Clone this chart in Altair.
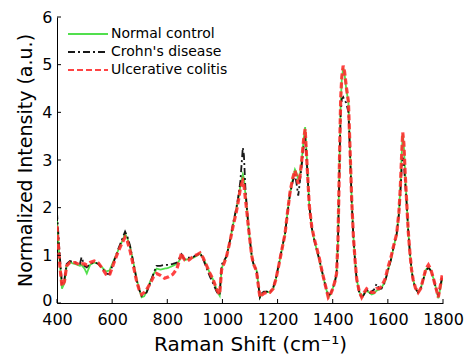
import altair as alt
import pandas as pd

# Raman shift (cm-1)
shift = [
    400, 410, 418, 427, 435, 447, 465, 483, 489, 500,
    508, 520, 535, 550, 565, 578, 590, 605, 620, 635,
    647, 655, 665, 677, 689, 698, 707, 716, 725, 737,
    750, 761, 775, 790, 805, 820, 835, 845, 852, 858,
    864, 873, 882, 895, 910, 919, 930, 943, 955, 967,
    978, 985, 990, 997, 1007, 1015, 1027, 1039, 1050, 1058,
    1065, 1070, 1074, 1078, 1083, 1088, 1094, 1100, 1106, 1112,
    1118, 1124, 1130, 1136, 1142, 1150, 1160, 1172, 1184, 1194,
    1203, 1215, 1227, 1236, 1245, 1255, 1263, 1269, 1275, 1281,
    1287, 1294, 1300, 1306, 1315, 1324, 1333, 1342, 1351, 1360,
    1372, 1384, 1392, 1400, 1408, 1414, 1419, 1423, 1426, 1429,
    1433, 1438, 1443, 1449, 1457, 1463, 1469, 1475, 1481, 1487,
    1496, 1505, 1514, 1523, 1532, 1541, 1550, 1559, 1568, 1577,
    1590, 1602, 1611, 1620, 1632, 1640, 1645, 1650, 1654, 1658,
    1663, 1668, 1674, 1680, 1686, 1692, 1700, 1710, 1719, 1728,
    1738, 1747, 1756, 1765, 1775, 1783, 1790, 1797,
]

normal = [
    1.72, 0.85, 0.30, 0.42, 0.78, 0.85, 0.82, 0.78, 0.80, 0.72,
    0.62, 0.80, 0.85, 0.82, 0.74, 0.66, 0.68, 0.88, 1.08, 1.28,
    1.45, 1.36, 1.18, 0.85, 0.50, 0.30, 0.12, 0.14, 0.24, 0.44,
    0.60, 0.72, 0.70, 0.72, 0.74, 0.78, 0.82, 0.90, 1.00, 0.95,
    0.90, 0.92, 0.93, 0.95, 1.00, 1.04, 0.95, 0.78, 0.62, 0.48,
    0.30, 0.20, 0.15, 0.72, 0.88, 0.98, 1.30, 1.65, 1.95, 2.20,
    2.45, 2.60, 2.70, 2.62, 2.30, 2.00, 1.60, 1.30, 1.00, 0.83,
    0.75, 0.68, 0.40, 0.12, 0.18, 0.22, 0.24, 0.22, 0.30, 0.50,
    0.75, 1.10, 1.45, 1.90, 2.30, 2.60, 2.80, 2.72, 2.60, 2.70,
    2.95, 3.40, 3.69, 3.05, 2.05, 1.58, 1.32, 1.12, 0.92, 0.68,
    0.40, 0.12, 0.18, 0.30, 0.45, 0.62, 1.30, 2.50, 3.40, 4.20,
    4.70, 4.93, 4.80, 4.50, 4.20, 3.20, 2.15, 1.40, 0.90, 0.50,
    0.25, 0.12, 0.20, 0.26, 0.22, 0.18, 0.20, 0.26, 0.28, 0.32,
    0.45, 0.72, 0.90, 1.15, 1.45, 1.90, 2.40, 3.10, 3.55, 3.30,
    2.70, 2.15, 1.50, 1.05, 0.70, 0.48, 0.32, 0.22, 0.30, 0.48,
    0.70, 0.75, 0.68, 0.52, 0.30, 0.10, 0.30, 0.50,
]

crohn = [
    1.90, 1.00, 0.42, 0.50, 0.82, 0.88, 0.85, 0.82, 0.96, 0.78,
    0.75, 0.82, 0.86, 0.82, 0.72, 0.62, 0.60, 0.85, 1.10, 1.32,
    1.50, 1.40, 1.20, 0.85, 0.48, 0.28, 0.15, 0.20, 0.22, 0.40,
    0.62, 0.78, 0.78, 0.80, 0.80, 0.82, 0.85, 0.95, 1.02, 0.95,
    0.92, 0.95, 0.95, 0.97, 1.02, 1.05, 0.92, 0.72, 0.55, 0.40,
    0.25, 0.18, 0.18, 0.80, 0.90, 0.98, 1.30, 1.68, 1.98, 2.25,
    2.55, 2.95, 3.26, 3.10, 2.45, 2.05, 1.65, 1.30, 1.00, 0.83,
    0.75, 0.68, 0.40, 0.12, 0.20, 0.24, 0.24, 0.22, 0.32, 0.52,
    0.78, 1.12, 1.45, 1.88, 2.28, 2.55, 2.70, 2.50, 2.25, 2.55,
    2.85, 3.25, 3.50, 2.95, 2.05, 1.58, 1.32, 1.12, 0.92, 0.70,
    0.40, 0.15, 0.20, 0.30, 0.45, 0.62, 1.25, 2.40, 3.30, 4.00,
    4.28, 4.32, 4.25, 4.20, 4.00, 3.10, 2.10, 1.38, 0.88, 0.48,
    0.22, 0.10, 0.18, 0.30, 0.20, 0.24, 0.28, 0.40, 0.30, 0.30,
    0.45, 0.72, 0.90, 1.15, 1.45, 1.85, 2.25, 2.80, 3.05, 2.95,
    2.50, 2.10, 1.50, 1.05, 0.70, 0.45, 0.30, 0.22, 0.30, 0.48,
    0.68, 0.74, 0.68, 0.52, 0.30, 0.14, 0.35, 0.55,
]

colitis = [
    1.62, 0.80, 0.35, 0.45, 0.78, 0.85, 0.85, 0.80, 0.82, 0.82,
    0.80, 0.85, 0.88, 0.84, 0.72, 0.60, 0.58, 0.82, 1.05, 1.25,
    1.38, 1.30, 1.10, 0.78, 0.45, 0.28, 0.18, 0.22, 0.28, 0.40,
    0.55, 0.62, 0.58, 0.52, 0.55, 0.60, 0.72, 0.92, 1.05, 0.95,
    0.90, 0.88, 0.92, 0.98, 1.02, 1.05, 0.95, 0.78, 0.62, 0.48,
    0.30, 0.22, 0.18, 0.70, 0.85, 0.98, 1.28, 1.62, 1.90, 2.15,
    2.40, 2.50, 2.56, 2.48, 2.20, 1.95, 1.60, 1.30, 1.00, 0.83,
    0.75, 0.65, 0.38, 0.12, 0.16, 0.20, 0.22, 0.22, 0.30, 0.50,
    0.75, 1.10, 1.45, 1.90, 2.32, 2.62, 2.78, 2.65, 2.50, 2.65,
    2.95, 3.40, 3.65, 3.00, 2.05, 1.60, 1.35, 1.15, 0.95, 0.70,
    0.40, 0.12, 0.18, 0.30, 0.45, 0.62, 1.30, 2.50, 3.45, 4.30,
    4.75, 4.98, 4.85, 4.55, 4.22, 3.20, 2.15, 1.40, 0.90, 0.50,
    0.25, 0.12, 0.22, 0.30, 0.26, 0.22, 0.22, 0.30, 0.30, 0.35,
    0.50, 0.78, 0.95, 1.18, 1.45, 1.90, 2.40, 3.10, 3.58, 3.35,
    2.70, 2.15, 1.50, 1.05, 0.70, 0.48, 0.32, 0.22, 0.30, 0.50,
    0.72, 0.80, 0.70, 0.52, 0.30, 0.12, 0.35, 0.58,
]

series_names = ["Normal control", "Crohn's disease", "Ulcerative colitis"]
series_colors = ["#3fdc3a", "#000000", "#ff2f2f"]
series_dashes = [[1, 0], [7, 3, 2, 3], [6, 3]]

x_ticks = [400, 600, 800, 1000, 1200, 1400, 1600, 1800]
y_ticks = [0, 1, 2, 3, 4, 5, 6]

rows = []
for name, vals in zip(series_names, [normal, crohn, colitis]):
    for i, (s, v) in enumerate(zip(shift, vals)):
        rows.append({"shift": s, "intensity": v, "series": name, "idx": i})
df = pd.DataFrame(rows)

W, H = 386, 286
FONT = "DejaVu Sans"

xscale = alt.Scale(domain=[400, 1800], nice=False, zero=False)
yscale = alt.Scale(domain=[0, 6], nice=False, zero=True)

xaxis = alt.Axis(values=x_ticks, format="d", ticks=False, grid=False, domainColor="black",
                 labelFont=FONT, labelFontSize=16, labelColor="black",
                 labelPadding=8, title="Raman Shift (cm\u207b\u00b9)",
                 titleFont=FONT, titleFontSize=20, titleFontWeight="normal",
                 titleColor="black", titlePadding=7, labelFlush=False)
yaxis = alt.Axis(values=y_ticks, format="d", ticks=False, grid=False, domainColor="black",
                 labelFont=FONT, labelFontSize=16, labelColor="black",
                 labelPadding=5,
                 labelOffset={"condition": {"test": "datum.value === 0", "value": -2.5},
                              "value": 0},
                 title="Normalized Intensity (a.u.)",
                 titleFont=FONT, titleFontSize=19, titleFontWeight="normal",
                 titleColor="black", titlePadding=6, labelFlush=False)

lines = alt.Chart(df).mark_line(clip=True, opacity=0.9).encode(
    x=alt.X("shift:Q", scale=xscale, axis=xaxis),
    y=alt.Y("intensity:Q", scale=yscale, axis=yaxis),
    color=alt.Color("series:N", scale=alt.Scale(domain=series_names, range=series_colors),
                    sort=series_names,
                    legend=alt.Legend(title=None, orient="none", legendX=20, legendY=6,
                                      symbolType="M-2,0H2", symbolSize=400,
                                      symbolStrokeWidth=2, labelFont=FONT,
                                      labelFontSize=14, labelColor="black",
                                      labelOffset=12, rowPadding=-1.5, padding=0)),
    strokeDash=alt.StrokeDash("series:N",
                              scale=alt.Scale(domain=series_names, range=series_dashes),
                              sort=series_names, legend=None),
    strokeWidth=alt.condition(alt.datum.series == "Ulcerative colitis",
                              alt.value(3.2), alt.value(1.8)),
    order="idx:Q",
)

xt = alt.Chart(pd.DataFrame({"v": x_ticks})).mark_rule(color="black", strokeWidth=1).encode(
    x=alt.X("v:Q", scale=xscale, axis=xaxis),
    y=alt.value(H), y2=alt.value(H - 4),
)
yt = alt.Chart(pd.DataFrame({"v": y_ticks})).mark_rule(color="black", strokeWidth=1).encode(
    y=alt.Y("v:Q", scale=yscale, axis=yaxis),
    x=alt.value(0), x2=alt.value(4),
)

chart = alt.layer(lines, xt, yt).properties(
    width=W, height=H,
    autosize=alt.AutoSizeParams(type="none"),
    padding={"left": 49, "top": 9, "right": 24, "bottom": 51},
).configure_view(stroke=None).configure_axis(domainWidth=1)

chart.save("out.html", embed_options={"renderer": "svg", "actions": False})
